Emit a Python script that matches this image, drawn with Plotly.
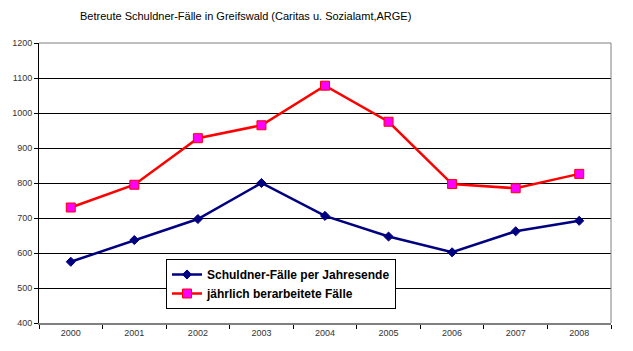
import plotly.graph_objects as go

years = ["2000", "2001", "2002", "2003", "2004", "2005", "2006", "2007", "2008"]
schuldner_jahresende = [575, 637, 697, 800, 706, 647, 602, 662, 692]
jaehrlich_bearbeitet = [730, 795, 928, 965, 1078, 975, 797, 785, 826]
y_ticks = [400, 500, 600, 700, 800, 900, 1000, 1100, 1200]

fig = go.Figure()
fig.add_trace(go.Scatter(
    x=years, y=schuldner_jahresende, mode="lines+markers",
    name="Schuldner-Fälle per Jahresende",
    line=dict(color="#000080", width=2.5),
    marker=dict(symbol="diamond", size=7, color="#000080", line=dict(color="#000080", width=1)),
))
fig.add_trace(go.Scatter(
    x=years, y=jaehrlich_bearbeitet, mode="lines+markers",
    name="jährlich berarbeitete Fälle",
    line=dict(color="#FF0000", width=2.5),
    marker=dict(symbol="square", size=9, color="#FF00FF", line=dict(color="#FF0000", width=1)),
))

fig.update_layout(
    width=633, height=351,
    margin=dict(l=39, r=22, t=43, b=28),
    paper_bgcolor="white", plot_bgcolor="white",
    font=dict(family="Arial, Liberation Sans, sans-serif", color="#333333", size=9),
    title=dict(
        text="Betreute Schuldner-Fälle in Greifswald (Caritas u. Sozialamt,ARGE)",
        x=80 / 633, xanchor="left", y=1 - 16 / 351, yanchor="middle",
        font=dict(size=11, color="#000000", family="Arial, Liberation Sans, sans-serif"),
    ),
    showlegend=True,
    legend=dict(
        x=(166 - 39) / 572, xanchor="left", y=(323 - 259) / 280, yanchor="top",
        bgcolor="white", bordercolor="#000000", borderwidth=1,
        font=dict(size=12, color="#000000", family="Arial, Liberation Sans, sans-serif", weight="bold"),
        itemwidth=30,
    ),
    xaxis=dict(
        type="category", range=[-0.5, 8.5], tickson="boundaries",
        ticks="outside", ticklen=4, tickcolor="#000000",
        showline=True, linecolor="#808080", linewidth=1.5,
        showgrid=False, tickfont=dict(size=9, color="#333333"),
    ),
    yaxis=dict(
        range=[400, 1200], tickvals=y_ticks, ticks="outside", ticklen=4, tickcolor="#000000",
        showline=True, linecolor="#000000", linewidth=1,
        showgrid=True, gridcolor="#000000", gridwidth=1, zeroline=False,
        tickfont=dict(size=9, color="#333333"),
    ),
    shapes=[
        dict(type="line", xref="paper", yref="paper", x0=0, x1=1, y0=1, y1=1,
             line=dict(color="#808080", width=1)),
        dict(type="line", xref="paper", yref="paper", x0=1, x1=1, y0=0, y1=1,
             line=dict(color="#808080", width=1)),
    ],
)

fig.write_html("out.html")
